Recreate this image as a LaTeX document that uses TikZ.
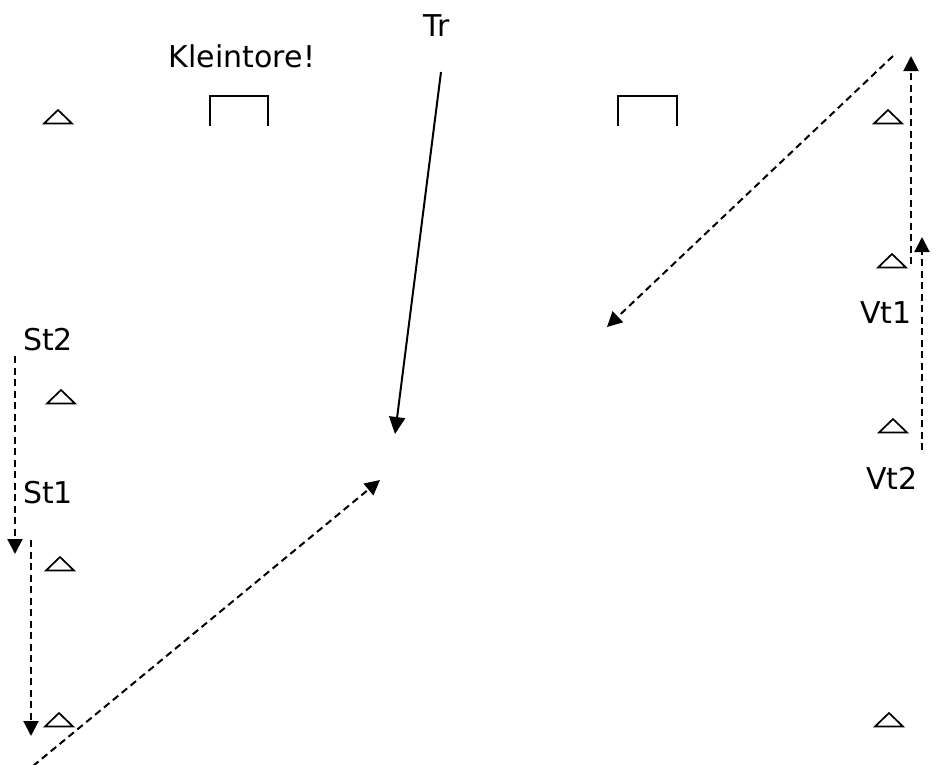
\documentclass[tikz,border=0pt]{standalone}
\usepackage{fontspec}
\setmainfont{DejaVu Sans}
\usetikzlibrary{arrows.meta}
\begin{document}
\begin{tikzpicture}[x=1pt,y=-1pt,
  lbl/.style={font=\fontsize{30}{34}\selectfont, inner sep=0pt, anchor=center},
  goal/.style={line width=2.6pt},
  cone/.style={line width=1.7pt, line join=miter},
  run/.style={line width=2pt, dash pattern=on 7pt off 4.5pt, -{Triangle[length=15pt,width=15pt]}},
  pass/.style={line width=2pt, -{Triangle[length=17pt,width=16pt]}}]
\useasboundingbox (0,0) rectangle (946,764);
% cones
\foreach \x/\y in {58/117, 888/117, 892/261, 61/397, 60/564, 59/720, 893/426, 889/720}{
  \draw[cone] (\x-14,\y+6.5) -- (\x,\y-7) -- (\x+14,\y+6.5) -- cycle;
}
% goals
\draw[goal] (210,126) -- (210,96) -- (268,96) -- (268,126);
\draw[goal] (618,126) -- (618,96) -- (677,96) -- (677,126);
% labels
\node[lbl] (klein) at (242,56) {Kleintore!};
\node[lbl] (tr) at (437,26) {Tr};
\node[lbl] (st2) at (48,340) {St2};
\node[lbl] (st1) at (48,493) {St1};
\node[lbl] (vt1) at (886,313) {Vt1};
\node[lbl] (vt2) at (892,478) {Vt2};
% coordinates
\coordinate (trS) at (441,72);
\coordinate (trE) at (395,434);
\coordinate (dA) at (33,766);
\coordinate (dB) at (380,480);
\coordinate (dC) at (893,56);
\coordinate (dD) at (607,327);
\coordinate (v1a) at (911,264);
\coordinate (v1b) at (911,56);
\coordinate (v2a) at (922,450);
\coordinate (v2b) at (922,237);
\coordinate (s2a) at (15,356);
\coordinate (s2b) at (15,554);
\coordinate (s1a) at (31,540);
\coordinate (s1b) at (31,736);
% arrows
\draw[pass] (trS) -- (trE);
\draw[run] (dA) -- (dB);
\draw[run] (dC) -- (dD);
\draw[run] (v1a) -- (v1b);
\draw[run] (v2a) -- (v2b);
\draw[run] (s2a) -- (s2b);
\draw[run] (s1a) -- (s1b);
\end{tikzpicture}
\end{document}
